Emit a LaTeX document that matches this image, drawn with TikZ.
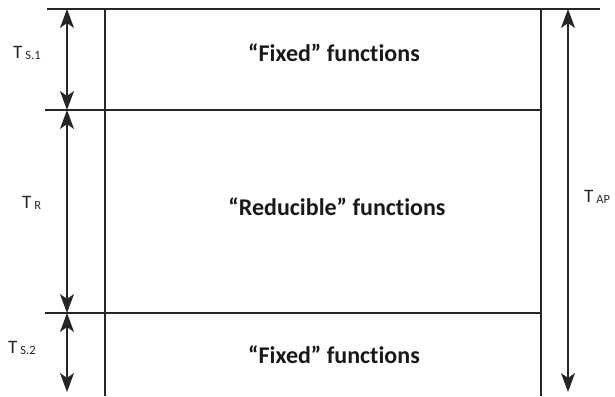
\documentclass[tikz,border=0pt]{standalone}
\usepackage{fontspec}
\setmainfont{Carlito}[Ligatures={NoCommon}]
\usetikzlibrary{arrows.meta}
\tikzset{
  rule/.style={line width=1.1pt, draw=black!85},
  tip/.style={Stealth[length=19pt,width=14pt,inset=5pt]},
  dim/.style={line width=1.1pt, draw=black!85, {Stealth[length=19pt,width=14pt,inset=5pt]}-{Stealth[length=19pt,width=14pt,inset=5pt]}},
  title/.style={font=\fontsize{24}{28}\selectfont\bfseries, text=black!90, inner sep=0pt, anchor=base},
  lab/.style={inner sep=0pt, anchor=base west, text=black!85},
}
\newcommand{\Tlab}[1]{{\fontsize{19}{22}\selectfont T}\hspace{3pt}\raisebox{-1pt}{\fontsize{12.5}{14}\selectfont #1}}
\begin{document}
\begin{tikzpicture}[x=1pt,y=-1pt]
\useasboundingbox (0,0) rectangle (615,396);
% coordinates
\coordinate (tl) at (47,9);
\coordinate (tr) at (600,9);
\coordinate (bl) at (105,9);
\coordinate (blb) at (105,396);
\coordinate (br) at (541,9);
\coordinate (brb) at (541,396);
\coordinate (m1l) at (45,110);
\coordinate (m1r) at (541,110);
\coordinate (m2l) at (45,313);
\coordinate (m2r) at (541,313);
\coordinate (a0) at (67,9);
\coordinate (a1) at (67,110);
\coordinate (a2) at (67,313);
\coordinate (a3) at (67,392);
\coordinate (r0) at (568,9);
\coordinate (r1) at (568,392);
% rules
\draw[rule] (tl) -- (tr);
\draw[rule] (m1l) -- (m1r);
\draw[rule] (m2l) -- (m2r);
\draw[rule] (bl) -- (blb);
\draw[rule] (br) -- (brb);
% dimension arrows
\draw[dim] (a0) -- (a1);
\draw[dim] (a1) -- (a2);
\draw[dim] (a2) -- (a3);
\draw[dim] (r0) -- (r1);
% titles
\node[title] (f1) at (334,62) {“Fixed” functions};
\node[title] (rf) at (337,215) {“Reducible” functions};
\node[title] (f2) at (334,363) {“Fixed” functions};
% labels
\node[lab] (ts1) at (13,59) {\Tlab{S.1}};
\node[lab] (trl) at (22,208) {\Tlab{R}};
\node[lab] (ts2) at (8,353) {\Tlab{S.2}};
\node[lab] (tap) at (584,202) {\Tlab{AP}};
\end{tikzpicture}
\end{document}
